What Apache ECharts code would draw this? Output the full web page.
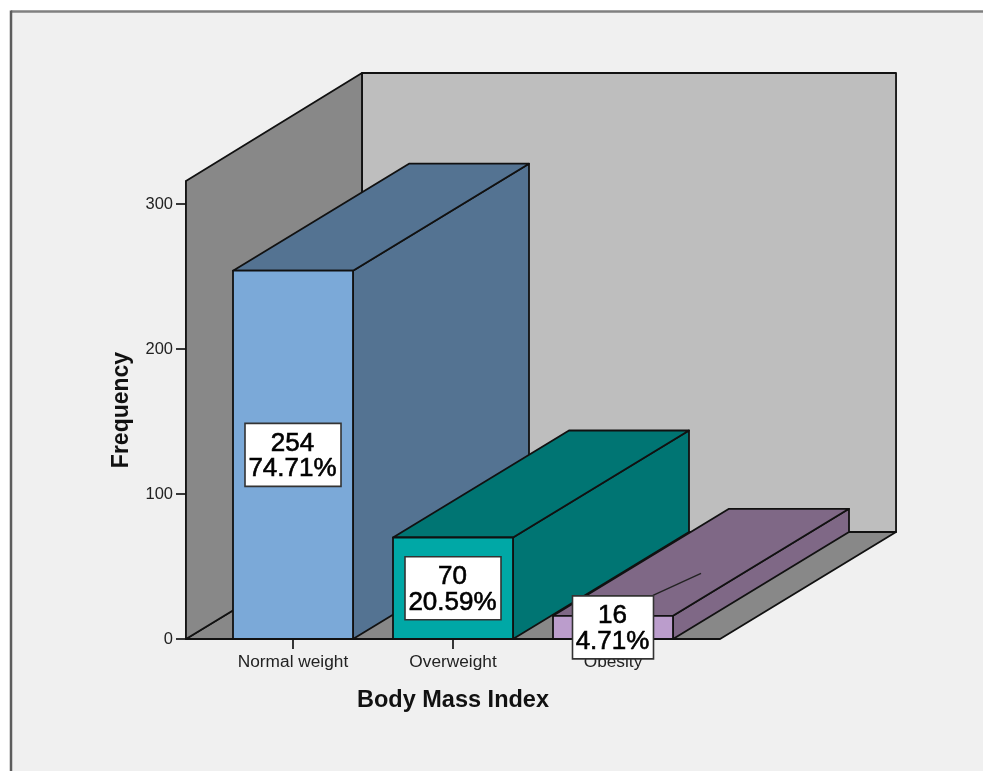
<!DOCTYPE html>
<html>
<head>
<meta charset="utf-8">
<style>html,body{margin:0;padding:0;background:#fff}#chart{width:983px;height:771px}</style>
<script src="https://cdn.jsdelivr.net/npm/echarts@6/dist/echarts.min.js"></script>
</head>
<body>
<div id="chart"></div>
<script>
// Body Mass Index frequency table
const categories = ['Normal weight', 'Overweight', 'Obesity'];
const frequencies = [254, 70, 16];
const percentLabels = ['74.71%', '20.59%', '4.71%'];
const frontColors = ['#7ba9d8', '#00a8a6', '#bb9dcc'];
const shadeColors = ['#547392', '#007573', '#7f6886'];
const yTicks = [0, 100, 200, 300];

// Oblique projection of the depth axis, in pixels
const DEPTH_X = 176, DEPTH_Y = -107;
const WALL_TOP = 315.86;
const FONT = '"Liberation Sans", Arial, sans-serif';
const EDGE = '#111';

function poly(points, fill) {
  return {
    type: 'polygon',
    shape: { points },
    style: { fill, stroke: EDGE, lineWidth: 1.8, lineJoin: 'round' }
  };
}

// Left wall, back wall and floor of the chart box
function renderBox(params, api) {
  const band = api.size([1, 0])[0];
  const o = api.coord([0, 0]);
  const top = api.coord([0, WALL_TOP])[1];
  const x0 = o[0] - band * 0.669;
  const x1 = o[0] + band * 2.669;
  const y0 = o[1];
  const wallRise = DEPTH_Y - 1;
  return {
    type: 'group',
    children: [
      poly([[x0 + DEPTH_X, y0 + DEPTH_Y], [x1 + DEPTH_X, y0 + DEPTH_Y], [x1, y0], [x0, y0]], '#888888'),
      poly([[x0 + DEPTH_X, top + wallRise], [x1 + DEPTH_X, top + wallRise], [x1 + DEPTH_X, y0 + DEPTH_Y], [x0 + DEPTH_X, y0 + DEPTH_Y]], '#bebebe'),
      poly([[x0, top], [x0 + DEPTH_X, top + wallRise], [x0 + DEPTH_X, y0 + DEPTH_Y], [x0, y0]], '#888888')
    ]
  };
}

// One oblique bar: right side, top and front faces
function renderBar(params, api) {
  const i = params.dataIndex;
  const band = api.size([1, 0])[0];
  const base = api.coord([api.value(0), 0]);
  const head = api.coord([api.value(0), api.value(1)]);
  const l = base[0] - band * 0.375;
  const r = base[0] + band * 0.375;
  const b = base[1];
  const t = head[1];
  return {
    type: 'group',
    children: [
      poly([[r, b], [r + DEPTH_X, b + DEPTH_Y], [r + DEPTH_X, t + DEPTH_Y], [r, t]], shadeColors[i]),
      poly([[l, t], [r, t], [r + DEPTH_X, t + DEPTH_Y], [l + DEPTH_X, t + DEPTH_Y]], shadeColors[i]),
      poly([[l, b], [r, b], [r, t], [l, t]], frontColors[i])
    ]
  };
}

// White value box centred on the front face of each bar
function renderLabel(params, api) {
  const i = params.dataIndex;
  const base = api.coord([api.value(0), 0]);
  const head = api.coord([api.value(0), api.value(1)]);
  const cx = base[0];
  const cy = (base[1] + head[1]) / 2;
  const w = percentLabels[i].length > 5 ? 96 : 81;
  const h = 63;
  const children = [];
  // The smallest bar's box carries a leader line across the bar's top
  if (i === 2) {
    children.push({
      type: 'line',
      shape: { x1: cx + 40, y1: cy - 32, x2: cx + 88, y2: cy - 54 },
      style: { stroke: '#222', lineWidth: 1.4 }
    });
  }
  children.push({
    type: 'rect',
    shape: { x: cx - w / 2, y: cy - h / 2, width: w, height: h },
    style: { fill: '#fff', stroke: '#333', lineWidth: 1.6 }
  });
  children.push({
    type: 'text',
    style: {
      x: cx - 0.5, y: cy + 1.5,
      text: frequencies[i] + '\n' + percentLabels[i],
      align: 'center', verticalAlign: 'middle',
      font: '26px ' + FONT,
      lineHeight: 25.5,
      fill: '#000', stroke: '#000', lineWidth: 0.6
    }
  });
  return { type: 'group', children };
}

const bars = categories.map((c, i) => [i, frequencies[i]]);

const chart = echarts.init(document.getElementById('chart'), null, { renderer: 'canvas' });
chart.setOption({
  animation: false,
  backgroundColor: '#ffffff',
  graphic: [
    { type: 'rect', z: -10, silent: true,
      shape: { x: 11, y: 11, width: 972, height: 760 },
      style: { fill: '#f0f0f0' } },
    { type: 'line', z: -9, silent: true,
      shape: { x1: 11, y1: 11.5, x2: 983, y2: 11.5 },
      style: { stroke: '#808080', lineWidth: 2.5 } },
    { type: 'line', z: -9, silent: true,
      shape: { x1: 11, y1: 10.5, x2: 11, y2: 771 },
      style: { stroke: '#5c5c5c', lineWidth: 2.5 } }
  ],
  grid: { left: 213, width: 480, top: 181, height: 458 },
  xAxis: {
    type: 'category',
    data: categories,
    name: 'Body Mass Index',
    nameLocation: 'middle',
    nameGap: 50,
    nameTextStyle: { fontFamily: FONT, fontSize: 23.5, fontWeight: 'bold', color: '#111' },
    axisLine: { show: true, lineStyle: { color: '#222', width: 1.5 } },
    axisTick: { show: true, alignWithLabel: true, length: 10, lineStyle: { color: '#222', width: 1.8 } },
    axisLabel: { margin: 15, fontFamily: FONT, fontSize: 17.3, color: '#222' }
  },
  yAxis: {
    type: 'value',
    min: 0,
    max: WALL_TOP,
    offset: 27,
    name: 'Frequency',
    nameLocation: 'middle',
    nameGap: 53,
    nameTextStyle: { fontFamily: FONT, fontSize: 23, fontWeight: 'bold', color: '#111' },
    splitLine: { show: false },
    axisLine: { show: true, lineStyle: { color: '#222', width: 1.5 } },
    axisTick: { show: true, length: 10, customValues: yTicks, lineStyle: { color: '#222', width: 1.8 } },
    axisLabel: { customValues: yTicks, margin: 13, padding: [2, 0, 0, 0], fontFamily: FONT, fontSize: 16.5, color: '#222' }
  },
  series: [
    { type: 'custom', z: 2, clip: false, silent: true, renderItem: renderBox, data: [[0, 0]], encode: { x: 0, y: 1 } },
    { type: 'custom', z: 3, clip: false, silent: true, renderItem: renderBar, data: bars, encode: { x: 0, y: 1 } },
    { type: 'custom', z: 4, clip: false, silent: true, renderItem: renderLabel, data: bars, encode: { x: 0, y: 1 } }
  ]
});
</script>
</body>
</html>
